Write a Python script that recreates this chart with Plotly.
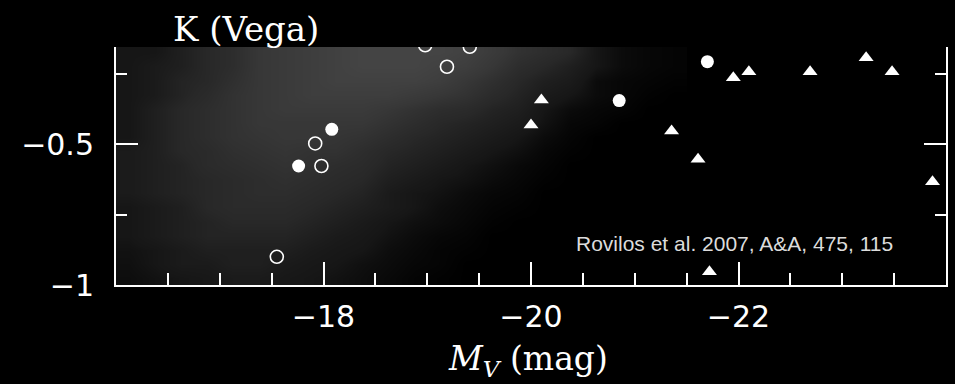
import plotly.graph_objects as go

# Background galaxy population: relative number density per cell
# (columns: M_V bin centres, rows: colour bin centres, top row first)
cloud_mag = [-16.125, -16.375, -16.625, -16.875, -17.125, -17.375, -17.625, -17.875,
             -18.125, -18.375, -18.625, -18.875, -19.125, -19.375, -19.625, -19.875,
             -20.125, -20.375, -20.625, -20.875, -21.125, -21.375]
cloud_col = [-0.175, -0.225, -0.275, -0.325, -0.375, -0.425, -0.475, -0.525, -0.575,
             -0.625, -0.675, -0.725, -0.775, -0.825, -0.875, -0.925, -0.975]
cloud_density = [
    [1, 1, 2, 3, 4, 6, 7, 8, 9, 10, 10, 10, 10, 9, 7, 5, 4, 3, 1, 0.5, 0.3, 0.2],
    [1, 1.5, 2, 3, 4, 6, 7, 8, 9, 10, 10, 10, 9, 8, 6, 4, 3, 2, 1, 0.5, 0.3, 0.2],
    [1, 1.5, 2.5, 3, 4.5, 6, 7, 8, 9, 9, 9, 9, 8, 6, 4.5, 3, 2, 1.5, 0.5, 0.3, 0.2, 0.1],
    [1, 1.5, 2.5, 3.5, 5, 6, 7, 8, 8, 8, 8, 7, 6, 5, 3.5, 2.5, 1.5, 1, 0.5, 0.3, 0.1, 0],
    [1, 2, 3, 4, 5, 6, 7, 7, 7, 7, 6, 5, 4, 3.5, 2.5, 2, 1, 0.5, 0.3, 0.2, 0, 0],
    [1, 2, 3, 4, 5, 6, 6, 6, 6, 6, 5, 4, 3, 2.5, 2, 1.5, 0.8, 0.3, 0.2, 0, 0, 0],
    [1, 2, 3, 4, 5, 5.5, 6, 6, 5.5, 5, 4, 3, 2.5, 2, 1.5, 1, 0.5, 0.2, 0, 0, 0, 0],
    [1.5, 2, 3, 3.5, 4.5, 5, 5.5, 5, 5, 4, 3, 2.5, 2, 1.5, 1, 0.7, 0.3, 0.1, 0, 0, 0, 0],
    [1.5, 2, 2.5, 3.5, 4, 4.5, 5, 4.5, 4, 3.5, 2.5, 2, 1.5, 1, 0.7, 0.4, 0.2, 0, 0, 0, 0, 0],
    [1.5, 2, 2.5, 3, 3.5, 4, 4.5, 4, 3.5, 3, 2, 1.5, 1, 0.8, 0.5, 0.3, 0.1, 0, 0, 0, 0, 0],
    [1.5, 2, 2.5, 3, 3.5, 4, 4, 3.5, 3, 2.5, 1.5, 1, 0.8, 0.5, 0.3, 0.2, 0, 0, 0, 0, 0, 0],
    [1, 1.5, 2, 3, 3.5, 3.5, 3.5, 3, 2.5, 2, 1.5, 1, 0.6, 0.4, 0.2, 0.1, 0, 0, 0, 0, 0, 0],
    [1, 1.5, 2, 2.5, 3, 3, 3, 2.5, 2, 1.5, 1, 0.7, 0.5, 0.3, 0.1, 0, 0, 0, 0, 0, 0, 0],
    [1, 1.5, 2, 2.5, 2.5, 2.5, 2.5, 2, 1.5, 1.2, 0.8, 0.5, 0.3, 0.2, 0, 0, 0, 0, 0, 0, 0, 0],
    [0.8, 1, 1.5, 2, 2, 2, 2, 1.5, 1.2, 1, 0.6, 0.4, 0.2, 0.1, 0, 0, 0, 0, 0, 0, 0, 0],
    [0.7, 1, 1.5, 1.5, 2, 2, 1.5, 1.2, 1, 0.7, 0.5, 0.3, 0.2, 0, 0, 0, 0, 0, 0, 0, 0, 0],
    [0.6, 0.8, 1, 1.2, 1.5, 1.5, 1.2, 1, 0.8, 0.6, 0.4, 0.2, 0.1, 0, 0, 0, 0, 0, 0, 0, 0, 0],
]

# Open circles
open_mag = [-18.98, -19.41, -19.19, -17.92, -17.98, -17.55]
open_col = [-0.150, -0.155, -0.226, -0.498, -0.578, -0.900]

# Filled circles
fill_mag = [-18.08, -17.76, -20.85, -21.70]
fill_col = [-0.448, -0.578, -0.346, -0.208]

# Triangles
tri_mag = [-20.10, -20.00, -21.355, -21.61, -21.95, -22.10, -22.69, -23.23, -23.48, -23.87, -21.72]
tri_col = [-0.344, -0.433, -0.454, -0.554, -0.265, -0.244, -0.244, -0.194, -0.244, -0.634, -0.953]

x_ticks = [-18, -20, -22]
y_ticks = [-0.5, -1]

fig = go.Figure()

fig.add_trace(go.Heatmap(
    x=cloud_mag, y=cloud_col, z=cloud_density,
    zmin=0, zmax=10, zsmooth="best",
    colorscale=[[0, "#000000"], [0.1, "#161616"], [0.3, "#282828"],
                [0.6, "#373737"], [1, "#444444"]],
    showscale=False, hoverinfo="skip",
))

fig.add_trace(go.Scatter(
    x=open_mag, y=open_col, mode="markers",
    marker=dict(symbol="circle-open", size=13, color="white", line=dict(width=1.6, color="white")),
    showlegend=False,
))
fig.add_trace(go.Scatter(
    x=fill_mag, y=fill_col, mode="markers",
    marker=dict(symbol="circle", size=13, color="white"),
    showlegend=False,
))
fig.add_trace(go.Scatter(
    x=tri_mag, y=tri_col, mode="markers",
    marker=dict(symbol="triangle-up", size=13, color="white"),
    showlegend=False,
))

tick_font = dict(family="DejaVu Sans", size=30, color="white")

fig.update_layout(
    width=955, height=384,
    margin=dict(l=116, r=7, t=47, b=99),
    paper_bgcolor="black", plot_bgcolor="black",
    showlegend=False,
    xaxis=dict(
        range=[-16, -24], showgrid=False, zeroline=False,
        showline=True, linecolor="white", linewidth=2, mirror=False,
        tickmode="array", tickvals=x_ticks,
        ticks="inside", ticklen=23, tickwidth=2, tickcolor="white",
        tickfont=tick_font, ticklabelstandoff=4,
        minor=dict(dtick=0.5, tick0=0, ticks="inside", ticklen=12, tickwidth=2, tickcolor="white"),
    ),
    yaxis=dict(
        range=[-1, -0.156], showgrid=False, zeroline=False,
        showline=True, linecolor="white", linewidth=2, mirror="ticks",
        tickmode="array", tickvals=y_ticks,
        ticks="inside", ticklen=22, tickwidth=2, tickcolor="white",
        tickfont=tick_font, ticklabelstandoff=14,
        minor=dict(dtick=0.25, tick0=0, ticks="inside", ticklen=11, tickwidth=2, tickcolor="white"),
    ),
    annotations=[
        dict(text="K (Vega)", xref="paper", yref="paper", x=0.157, y=1 + (47 - 29) / 238,
             xanchor="center", yanchor="middle", showarrow=False,
             font=dict(family="DejaVu Serif", size=34, color="white")),
        dict(text="<i>M<sub>V</sub></i> (mag)", xref="paper", yref="paper", x=0.496,
             y=-(360 - 285) / 238, xanchor="center", yanchor="middle", showarrow=False,
             font=dict(family="DejaVu Serif", size=33, color="white")),
        dict(text="Rovilos et al. 2007, A&A, 475, 115", xref="paper", yref="paper",
             x=0.745, y=(285 - 243) / 238, xanchor="center", yanchor="middle", showarrow=False,
             font=dict(family="Liberation Sans", size=21, color="#dcdcdc")),
    ],
)

fig.write_html("out.html")
